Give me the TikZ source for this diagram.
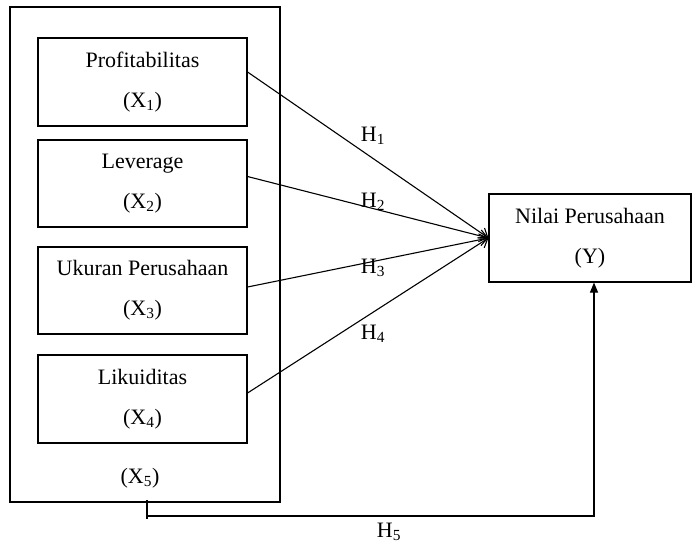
\documentclass[tikz,border=0pt]{standalone}
\usepackage{fontspec}
\setmainfont{Liberation Serif}
\usetikzlibrary{arrows.meta}
\begin{document}
\begin{tikzpicture}[x=1pt,y=-1pt,
  box/.style={draw,line width=1.1pt,inner sep=0pt,align=center,font=\fontsize{22}{40}\selectfont},
  lbl/.style={inner sep=0pt,font=\fontsize{22}{26}\selectfont},
  conn/.style={line width=1.1pt,-{Straight Barb[length=8pt,width=12pt]}},
  plain/.style={line width=1.1pt}]
\useasboundingbox (0,0) rectangle (692,544);
\node[box,minimum width=270pt,minimum height=495pt] (outer) at (145,254.5) {};
\node[box,minimum width=209pt,minimum height=88pt] (b1) at (142.5,82) {Profitabilitas\\(X\textsubscript{1})};
\node[box,minimum width=209pt,minimum height=87pt] (b2) at (142.5,183.5) {Leverage\\(X\textsubscript{2})};
\node[box,minimum width=209pt,minimum height=87pt] (b3) at (142.5,290.5) {Ukuran Perusahaan\\(X\textsubscript{3})};
\node[box,minimum width=209pt,minimum height=88pt] (b4) at (142.5,399) {Likuiditas\\(X\textsubscript{4})};
\node[lbl] (x5) at (140,478) {(X\textsubscript{5})};
\node[box,minimum width=202pt,minimum height=88pt] (y) at (590,238) {Nilai Perusahaan\\(Y)};
\node[lbl] (h1) at (373,136) {H\textsubscript{1}};
\node[lbl] (h2) at (373,202) {H\textsubscript{2}};
\node[lbl] (h3) at (373,268) {H\textsubscript{3}};
\node[lbl] (h4) at (373,334) {H\textsubscript{4}};
\node[lbl] (h5) at (389,532) {H\textsubscript{5}};
\draw[conn] ([yshift=10pt]b1.east) -- (y.west);
\draw[conn] ([yshift=7pt]b2.east) -- (y.west);
\draw[conn] ([yshift=3.5pt]b3.east) -- (y.west);
\draw[conn] ([yshift=6pt]b4.east) -- (y.west);
\coordinate (t0) at (147,500);
\coordinate (t1) at (147,519);
\coordinate (c0) at (147,516);
\coordinate (c1) at (594,516);
\draw[plain] (t0) -- (t1);
\draw[plain,-{Triangle[length=10pt,width=8pt]}] (c0) -- (c1) -- (c1 |- y.south);
\end{tikzpicture}
\end{document}
